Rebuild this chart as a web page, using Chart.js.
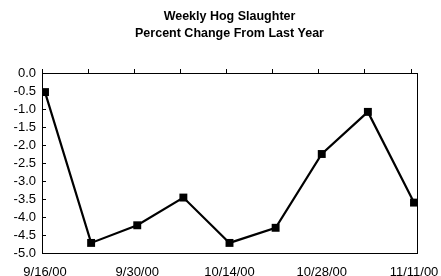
<!DOCTYPE html>
<html>
<head>
<meta charset="utf-8">
<script src="https://cdn.jsdelivr.net/npm/chart.js@4.4.0/dist/chart.umd.min.js"></script>
<style>
  html, body { margin: 0; padding: 0; background: #fff; }
  #wrap { width: 441px; height: 276px; }
</style>
</head>
<body>
<div id="wrap"><canvas id="grafico"></canvas></div>
<script>
// semanas del informe y variación porcentual vs. año anterior
const semanas = ['9/16/00', '9/23/00', '9/30/00', '10/7/00', '10/14/00', '10/21/00', '10/28/00', '11/4/00', '11/11/00'];
const cambio = [-0.53, -4.72, -4.23, -3.46, -4.72, -4.30, -2.25, -1.08, -3.60];
const semanasConEtiqueta = [0, 2, 4, 6, 8];
const titulo = ['Weekly Hog Slaughter', 'Percent Change From Last Year'];

const desfase = 0.065; // los puntos caen un poco a la derecha de las marcas

Chart.defaults.font.family = 'Arial, "Liberation Sans", sans-serif';
Chart.defaults.color = '#000';

const marco = {
    id: 'marco',
    afterDraw(chart) {
        const { ctx, chartArea: a, scales } = chart;
        ctx.save();
        // título centrado sobre el área de trazado
        ctx.fillStyle = '#000';
        ctx.font = 'bold 12.5px Arial, "Liberation Sans", sans-serif';
        ctx.textAlign = 'center';
        ctx.textBaseline = 'middle';
        const cx = (a.left + a.right) / 2;
        titulo.forEach((t, i) => ctx.fillText(t, cx, 17 + i * 17));

        ctx.strokeStyle = '#000';
        ctx.lineWidth = 1;
        ctx.strokeRect(Math.round(a.left) + 0.5, Math.round(a.top) + 0.5, Math.round(a.right - a.left), Math.round(a.bottom - a.top));
        // marcas interiores del eje y
        ctx.beginPath();
        scales.y.ticks.forEach(t => {
            const py = Math.round(scales.y.getPixelForValue(t.value)) + 0.5;
            ctx.moveTo(a.left, py);
            ctx.lineTo(a.left + 4, py);
        });
        ctx.stroke();
        ctx.restore();
    }
};

const sinRelleno = s => { s.paddingLeft = 0; s.paddingRight = 0; };

new Chart(document.getElementById('grafico'), {
    type: 'line',
    data: {
        datasets: [{
            data: cambio.map((v, i) => ({ x: i, y: v })),
            borderColor: '#000',
            borderWidth: 2.2,
            pointStyle: 'rect',
            pointRadius: 5.6,
            pointBackgroundColor: '#000',
            pointBorderWidth: 0,
            tension: 0
        }]
    },
    options: {
        responsive: true,
        maintainAspectRatio: false,
        animation: false,
        layout: { padding: { left: 0, right: 24, top: 0, bottom: 0 } },
        plugins: {
            legend: { display: false },
            tooltip: { enabled: false },
            title: { display: false }
        },
        scales: {
            x: {
                type: 'linear',
                position: 'bottom',
                min: -desfase,
                max: cambio.length - 1 + desfase,
                afterBuildTicks: s => { s.ticks = semanasConEtiqueta.map(v => ({ value: v })); },
                afterFit: s => { s.height = 23; sinRelleno(s); },
                grid: { display: false, drawTicks: false },
                border: { display: false },
                ticks: {
                    font: { size: 13 },
                    padding: 12,
                    maxRotation: 0,
                    autoSkip: false,
                    callback: v => semanas[v]
                }
            },
            x2: {
                type: 'linear',
                position: 'top',
                min: -desfase,
                max: cambio.length - 1 + desfase,
                afterBuildTicks: s => { s.ticks = semanas.map((_, i) => ({ value: i - desfase })); },
                afterFit: s => { s.height = 73; sinRelleno(s); },
                grid: { display: true, drawOnChartArea: false, drawTicks: true, tickLength: 4, color: '#000', lineWidth: 1 },
                border: { display: false },
                ticks: { display: false }
            },
            y: {
                min: -5,
                max: 0,
                afterFit: s => { s.width = 42; },
                grid: { display: false, drawTicks: false },
                border: { display: false },
                ticks: {
                    stepSize: 0.5,
                    autoSkip: false,
                    font: { size: 13 },
                    padding: 6,
                    callback: v => v.toFixed(1)
                }
            }
        }
    },
    plugins: [marco]
});
</script>
</body>
</html>
